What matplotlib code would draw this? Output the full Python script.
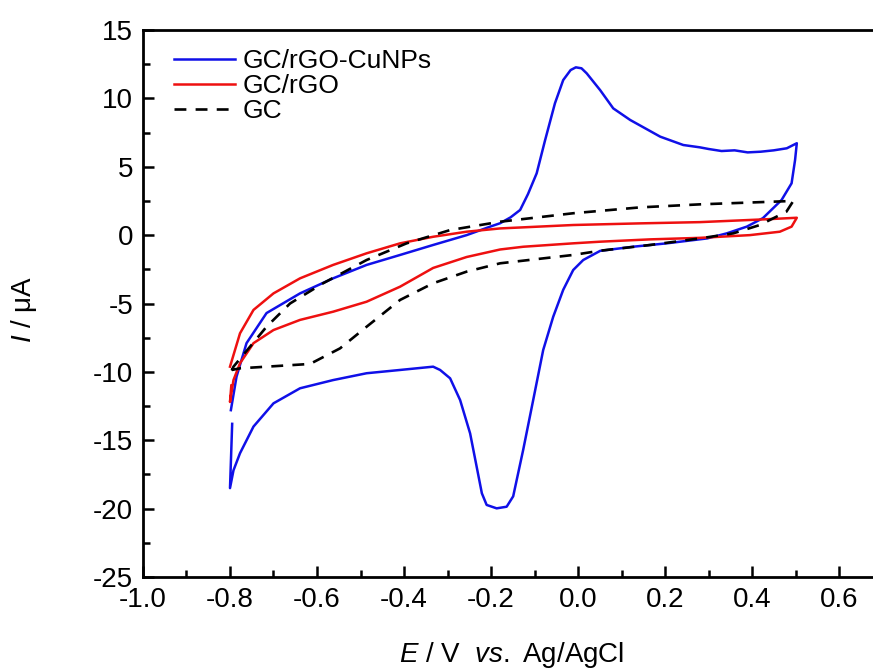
import matplotlib
matplotlib.use("Agg")
import matplotlib.pyplot as plt
from matplotlib.ticker import MultipleLocator, FormatStrFormatter

plt.rcParams['font.family'] = ['Liberation Sans', 'DejaVu Sans']
plt.rcParams['mathtext.fontset'] = 'custom'
plt.rcParams['mathtext.rm'] = 'Liberation Sans'
plt.rcParams['mathtext.it'] = 'Liberation Sans:italic'
plt.rcParams['axes.unicode_minus'] = False

# GC/rGO-CuNPs (blue), anodic then cathodic sweep
cu_E = [-0.798, -0.785, -0.762, -0.716, -0.639, -0.563, -0.486, -0.409, -0.333,
        -0.256, -0.202, -0.179, -0.155, -0.133, -0.115, -0.095, -0.076, -0.053,
        -0.034, -0.017, -0.005, 0.008, 0.020, 0.051, 0.081, 0.12, 0.189, 0.242,
        0.280, 0.30, 0.33, 0.36, 0.39, 0.42, 0.45, 0.48, 0.503,
        0.499, 0.491, 0.468, 0.425, 0.388, 0.342, 0.297, 0.204, 0.126, 0.051,
        0.012, -0.011, -0.034, -0.057, -0.080, -0.103, -0.126, -0.149, -0.164,
        -0.187, -0.210, -0.221, -0.233, -0.248, -0.271, -0.294, -0.317, -0.333,
        -0.409, -0.486, -0.563, -0.639, -0.700, -0.746, -0.777, -0.792, -0.800,
        -0.795]
cu_I = [-12.8, -10.35, -7.9, -5.7, -4.26, -3.16, -2.18, -1.45, -0.72,
        0.0, 0.62, 0.87, 1.3, 1.84, 3.0, 4.52, 6.9, 9.64,
        11.34, 12.07, 12.27, 12.2, 11.83, 10.6, 9.27, 8.42, 7.2, 6.59,
        6.42, 6.3, 6.15, 6.2, 6.05, 6.1, 6.2, 6.35, 6.72,
        5.49, 3.79, 2.57, 1.24, 0.62, 0.13, -0.24, -0.6, -0.85, -1.15,
        -1.82, -2.55, -4.0, -5.97, -8.4, -12.06, -15.7, -19.1, -19.86,
        -19.98, -19.73, -18.88, -16.93, -14.5, -12.06, -10.47, -9.86, -9.62,
        -9.86, -10.1, -10.6, -11.2, -12.3, -14.0, -15.95, -17.2, -18.5,
        -13.8]

# GC/rGO (red)
rgo_E = [-0.800, -0.777, -0.746, -0.700, -0.639, -0.563, -0.486, -0.409, -0.333,
         -0.256, -0.179, -0.011, 0.143, 0.280, 0.433, 0.503,
         0.491, 0.464, 0.395, 0.280, 0.166, 0.051, -0.011, -0.126, -0.179,
         -0.256, -0.333, -0.409, -0.486, -0.563, -0.639, -0.700, -0.746,
         -0.777, -0.792, -0.800, -0.797]
rgo_I = [-9.62, -7.18, -5.47, -4.26, -3.16, -2.18, -1.33, -0.6, -0.12,
         0.25, 0.49, 0.74, 0.86, 0.95, 1.16, 1.27,
         0.62, 0.25, 0.0, -0.2, -0.31, -0.48, -0.6, -0.85, -1.05,
         -1.6, -2.4, -3.77, -4.87, -5.6, -6.2, -6.94, -7.9,
         -9.37, -10.6, -12.2, -11.0]

# bare GC (black dashed)
gc_E = [-0.796, -0.792, -0.754, -0.716, -0.662, -0.586, -0.486, -0.394, -0.294,
        -0.179, -0.011, 0.143, 0.280, 0.495,
        0.479, 0.418, 0.357, 0.280, 0.166, 0.051, -0.011, -0.179, -0.256,
        -0.333, -0.409, -0.486, -0.547, -0.616, -0.716, -0.777, -0.796]
gc_I = [-9.9, -9.62, -8.16, -6.7, -5.0, -3.52, -1.82, -0.6, 0.37,
        0.98, 1.6, 2.03, 2.25, 2.5,
        1.71, 0.74, 0.13, -0.24, -0.72, -1.14, -1.45, -2.06, -2.67,
        -3.52, -4.74, -6.7, -8.28, -9.42, -9.62, -9.74, -9.86]

fig = plt.figure(figsize=(8.73, 6.71), dpi=100)
ax = fig.add_axes([143 / 873, 94 / 671, 730 / 873, 547 / 671])

ax.plot(cu_E, cu_I, color='#1010e8', lw=1.8, label='GC/rGO-CuNPs')
ax.plot(rgo_E, rgo_I, color='#ee1010', lw=1.8, label='GC/rGO')
ax.plot(gc_E, gc_I, color='black', lw=1.9, ls=(0, (4.5, 3.5)), label='GC')

ax.set_xlim(-1.0, -1.0 + 730 / 435)
ax.set_ylim(-25, 15)
ax.xaxis.set_major_locator(MultipleLocator(0.2))
ax.xaxis.set_minor_locator(MultipleLocator(0.1))
ax.yaxis.set_major_locator(MultipleLocator(5))
ax.yaxis.set_minor_locator(MultipleLocator(2.5))
ax.xaxis.set_major_formatter(FormatStrFormatter('%.1f'))

for s in ax.spines.values():
    s.set_linewidth(2)
ax.spines['right'].set_visible(False)
ax.tick_params(which='both', direction='in', top=False, right=False,
               labelsize=20, width=1.8)
ax.tick_params(which='major', length=8, pad=7)
ax.tick_params(which='minor', length=5)

ax.set_xlabel('$E$ / V  $vs.$ Ag/AgCl', fontsize=20)
ax.xaxis.set_label_coords(0.505, -0.115)
ax.set_ylabel('$I$ / μA', fontsize=20)
ax.yaxis.set_label_coords(-0.142, 0.49)

ax.legend(loc='upper left', frameon=False, fontsize=19, handlelength=2.3,
          handletextpad=0.3, labelspacing=0.05, borderaxespad=0.0,
          bbox_to_anchor=(0.028, 0.985))

fig.savefig('out.png', dpi=100)
